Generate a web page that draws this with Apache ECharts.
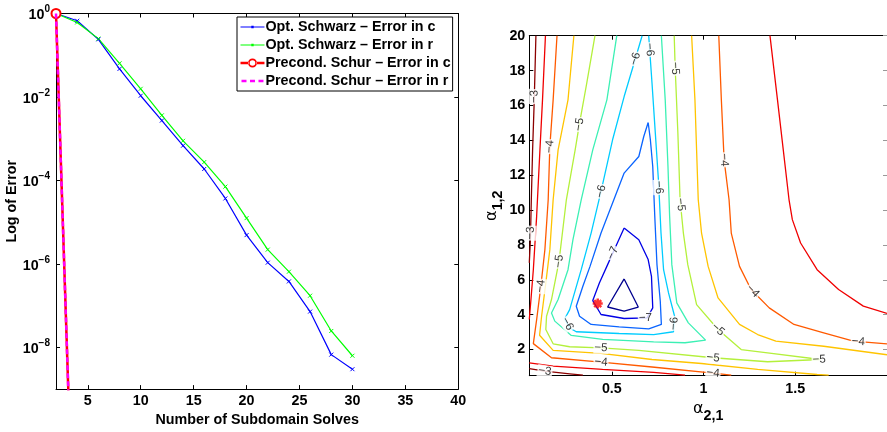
<!DOCTYPE html>
<html><head><meta charset="utf-8">
<script src="https://cdn.jsdelivr.net/npm/echarts@6/dist/echarts.min.js"></script>
<style>html,body{margin:0;padding:0;background:#fff}#c{width:887px;height:432px}</style>
</head><body><div id="c"></div>
<script>
// ---------- Left panel data ----------
const solves = [2,4,6,8,10,12,14,16,18,20,22,24,26,28,30];
const schwarzErrC = [1.0,0.67,0.24,0.047,0.0107,0.00272,6.8e-4,1.88e-4,3.7e-5,4.9e-6,1.07e-6,3.8e-7,7.2e-8,6.7e-9,3.0e-9];
const schwarzErrR = [1.0,0.61,0.25,0.064,0.0157,0.00363,8.9e-4,2.75e-4,7.1e-5,1.25e-5,2.2e-6,6.5e-7,1.73e-7,2.47e-8,6.3e-9];
const schurSolves = [2,4];
const schurErrC = [1.0,3e-16];
const schurErrR = [1.0,3e-16];
const leftXTicks = [5,10,15,20,25,30,35,40];
const leftYTicks = [1e-8,1e-6,1e-4,1e-2,1];

// ---------- Right panel data (contour lines, [alpha21, alpha12]) ----------
const rightXTicks = [0.5,1,1.5];
const rightYTicks = [2,4,6,8,10,12,14,16,18,20];
const optimum = [0.423,4.64];

const cM3a = [[0.086,20],[0.077,16.32],[0.068,13.45],[0.061,10.59],[0.056,8.30],[0.050,6.97]];
const cM3b = [[0.050,0.90],[0.135,0.76],[0.270,0.61],[0.342,0.53]];
const cM35a = [[0.138,20],[0.122,16.32],[0.108,13.45],[0.090,9.64],[0.072,6.58],[0.059,4.87],[0.050,3.72]];
const cM35b = [[0.050,1.24],[0.180,1.05],[0.450,0.86],[0.728,0.69],[0.899,0.53]];
const cM35c = [[1.362,20],[1.403,16.32],[1.466,10.59],[1.484,9.45],[1.529,8.11],[1.619,6.58],[1.736,5.44],[1.871,4.49],[2.0,4.07]];
const cM4a = [[0.201,20],[0.180,16.32],[0.162,13.64],[0.153,10.59],[0.135,7.73],[0.113,5.63],[0.090,3.72],[0.072,2.34],[0.171,1.53],[0.441,1.28],[0.719,1.00],[1.052,0.65],[1.151,0.53]];
const cM4b = [[1.083,20],[1.097,16.32],[1.112,12.88],[1.139,10.59],[1.151,8.68],[1.196,6.77],[1.259,5.44],[1.358,4.39],[1.493,3.44],[1.655,2.96],[1.817,2.48],[2.0,2.33]];
const cM45a = [[0.293,20],[0.261,16.32],[0.207,13.45],[0.180,10.59],[0.162,7.73],[0.140,5.82],[0.117,3.91],[0.106,2.82],[0.180,1.95],[0.441,1.78],[0.719,1.43],[0.989,1.20],[1.295,0.86],[1.619,0.57],[1.682,0.53]];
const cM45b = [[0.935,20],[0.953,16.32],[0.962,13.45],[0.971,10.59],[0.989,8.68],[1.025,6.77],[1.079,4.96],[1.196,3.44],[1.295,2.86],[1.394,2.48],[1.655,2.19],[2.0,1.70]];
const cM5 = [[0.408,20],[0.363,17.27],[0.324,14.98],[0.300,13.45],[0.252,10.59],[0.212,7.06],[0.171,4.87],[0.144,3.91],[0.140,3.15],[0.180,2.33],[0.270,2.16],[0.441,2.10],[0.647,1.95],[1.052,1.53],[1.349,1.30],[1.637,1.43],[1.349,1.81],[1.205,2.00],[1.079,3.15],[0.962,4.58],[0.914,6.87],[0.890,8.68],[0.872,10.59],[0.860,14.41],[0.845,18.23],[0.840,20]];
const cM55 = [[0.527,20],[0.473,16.32],[0.396,13.45],[0.333,10.59],[0.288,8.30],[0.261,6.58],[0.207,4.87],[0.171,4.10],[0.189,3.63],[0.279,2.81],[0.450,2.58],[0.728,2.44],[0.899,2.39],[1.011,2.54],[0.917,3.53],[0.854,4.68],[0.827,6.87],[0.815,9.64],[0.806,12.50],[0.791,16.32],[0.770,20]];
const cM6 = [[0.665,20],[0.621,18.42],[0.567,16.51],[0.504,14.03],[0.441,11.07],[0.387,8.68],[0.333,6.58],[0.270,4.29],[0.243,3.76],[0.270,3.24],[0.306,3.02],[0.540,2.92],[0.728,2.86],[0.836,3.02],[0.842,3.91],[0.809,5.25],[0.782,6.58],[0.768,8.68],[0.755,11.55],[0.737,14.41],[0.719,17.27],[0.701,20]];
const cM65 = [[0.698,15.02],[0.674,14.22],[0.647,13.07],[0.567,12.12],[0.504,10.40],[0.441,8.68],[0.381,6.77],[0.342,5.63],[0.306,4.48],[0.324,3.91],[0.387,3.44],[0.540,3.30],[0.701,3.19],[0.770,3.44],[0.764,4.77],[0.746,6.87],[0.734,9.64],[0.723,12.50],[0.710,14.03],[0.698,15.02]];
const cM7 = [[0.567,8.97],[0.522,7.92],[0.477,6.87],[0.432,5.82],[0.396,4.81],[0.441,4.01],[0.567,3.78],[0.692,3.82],[0.723,4.39],[0.716,6.20],[0.698,7.16],[0.647,8.30],[0.567,8.97]];
const cM75 = [[0.567,6.05],[0.644,4.44],[0.567,4.20],[0.477,4.44],[0.567,6.05]];

// contour label anchor points: [alpha21, alpha12, level]
const contourLabelPts = [
 [0.081,16.51,-3],[0.058,8.68,-3],[0.135,0.76,-3],
 [0.162,13.64,-4],[0.113,5.63,-4],[0.441,1.28,-4],[1.052,0.65,-4],[1.112,12.88,-4],[1.268,5.34,-4],[1.843,2.42,-4],
 [0.333,14.89,-5],[0.212,7.06,-5],[0.441,2.10,-5],[1.052,1.53,-5],[1.630,1.43,-5],[1.079,3.15,-5],[0.845,18.13,-5],[0.869,10.31,-5],
 [0.647,18.61,-6],[0.441,11.07,-6],[0.255,3.45,-6],[0.838,3.5,-6],[0.755,11.3,-6],[0.703,19.2,-6],
 [0.522,7.45,-7],[0.683,3.78,-7]
];

const contours = [
  {level:-7.5, pieces:[cM75]},
  {level:-7, pieces:[cM7]},
  {level:-6.5, pieces:[cM65]},
  {level:-6, pieces:[cM6]},
  {level:-5.5, pieces:[cM55]},
  {level:-5, pieces:[cM5]},
  {level:-4.5, pieces:[cM45a, cM45b]},
  {level:-4, pieces:[cM4a, cM4b]},
  {level:-3.5, pieces:[cM35a, cM35b, cM35c]},
  {level:-3, pieces:[cM3a, cM3b]}
];
const levelColor = {'-7.5':'#00008f','-7':'#0000e6','-6.5':'#0a64ff','-6':'#00ccff','-5.5':'#3cf0b4','-5':'#b4f03c','-4.5':'#ffc400','-4':'#ff5a00','-3.5':'#f00000','-3':'#8c0000'};

const FONT = 'Liberation Sans';
const FS = 14.3;
const chart = echarts.init(document.getElementById('c'));

function pow10Label(v){
  const e = Math.round(Math.log10(v));
  return '{b|10}{s|' + (e < 0 ? '\u2212' : '') + Math.abs(e) + '}';
}
const blk = '#000';
function axisBase(extra){
  return Object.assign({
    axisLine:{show:true, onZero:false, lineStyle:{color:blk, width:1}},
    splitLine:{show:false}
  }, extra);
}
const xMark = 'path://M0,0L10,10M10,0L0,10';
const alphaRich = {a:{fontFamily:'DejaVu Sans', fontSize:16, color:blk, verticalAlign:'bottom', padding:[0,0,6,0]},
                   s:{fontFamily:FONT, fontWeight:'bold', fontSize:FS, color:blk, verticalAlign:'bottom'}};

const xAxes = [
  axisBase({type:'value', gridIndex:0, position:'bottom', min:2, max:40,
    axisTick:{inside:true, length:4, customValues:leftXTicks, lineStyle:{color:blk}},
    axisLabel:{customValues:leftXTicks, fontFamily:FONT, fontWeight:'bold', fontSize:FS, color:blk, margin:5},
    name:'Number of Subdomain Solves', nameLocation:'middle', nameGap:20,
    nameTextStyle:{fontFamily:FONT, fontWeight:'bold', fontSize:FS, color:blk}}),
  axisBase({type:'value', gridIndex:0, position:'top', min:2, max:40,
    axisTick:{inside:true, length:4, customValues:leftXTicks, lineStyle:{color:blk}},
    axisLabel:{show:false}}),
  axisBase({type:'value', gridIndex:1, position:'bottom', min:0.05, max:2,
    axisTick:{inside:true, length:4, customValues:rightXTicks, lineStyle:{color:blk}},
    axisLabel:{customValues:rightXTicks, fontFamily:FONT, fontWeight:'bold', fontSize:FS, color:blk, margin:6},
    name:'{a|\u03b1}{s|2,1}', nameLocation:'middle', nameGap:17,
    nameTextStyle:{rich:alphaRich}}),
  axisBase({type:'value', gridIndex:1, position:'top', min:0.05, max:2,
    axisTick:{inside:true, length:4, customValues:rightXTicks, lineStyle:{color:blk}},
    axisLabel:{show:false}})
];
const yAxes = [
  axisBase({type:'log', logBase:10, gridIndex:0, position:'left', min:1e-9, max:1,
    axisTick:{inside:true, length:4, customValues:leftYTicks, lineStyle:{color:blk}},
    axisLabel:{customValues:leftYTicks, formatter:pow10Label, margin:6,
      rich:{b:{fontFamily:FONT, fontWeight:'bold', fontSize:FS, color:blk, verticalAlign:'bottom'},
            s:{fontFamily:FONT, fontWeight:'bold', fontSize:10, color:blk, verticalAlign:'bottom', padding:[0,0,8,0]}}},
    name:'Log of Error', nameLocation:'middle', nameGap:29,
    nameTextStyle:{fontFamily:FONT, fontWeight:'bold', fontSize:FS, color:blk}}),
  axisBase({type:'log', logBase:10, gridIndex:0, position:'right', min:1e-9, max:1,
    axisTick:{inside:true, length:4, customValues:leftYTicks, lineStyle:{color:blk}},
    axisLabel:{show:false}}),
  axisBase({type:'value', gridIndex:1, position:'left', min:0.5, max:20,
    axisTick:{inside:true, length:4, customValues:rightYTicks, lineStyle:{color:blk}},
    axisLabel:{customValues:rightYTicks, fontFamily:FONT, fontWeight:'bold', fontSize:FS, color:blk, margin:4},
    name:'{a|\u03b1}{s|1,2}', nameLocation:'middle', nameGap:22,
    nameTextStyle:{rich:alphaRich}}),
  axisBase({type:'value', gridIndex:1, position:'right', min:0.5, max:20,
    axisTick:{inside:true, length:4, customValues:rightYTicks, lineStyle:{color:'#999'}},
    axisLabel:{show:false}})
];

const zip = (xs, ys) => xs.map((x, i) => [x, ys[i]]);
const nameC = 'Opt. Schwarz \u2013 Error in c', nameR = 'Opt. Schwarz \u2013 Error in r';
const nameSC = 'Precond. Schur \u2013 Error in c', nameSR = 'Precond. Schur \u2013 Error in r';
const series = [
  {name:nameC, type:'line', xAxisIndex:0, yAxisIndex:0, data:zip(solves, schwarzErrC),
   symbol:xMark, symbolSize:4, showAllSymbol:true, color:'#0000ff',
   itemStyle:{color:'#0000ff', borderColor:'#0000ff', borderWidth:1}, lineStyle:{color:'#0000ff', width:1.2}},
  {name:nameR, type:'line', xAxisIndex:0, yAxisIndex:0, data:zip(solves, schwarzErrR),
   symbol:xMark, symbolSize:4, showAllSymbol:true, color:'#00ff00',
   itemStyle:{color:'#00ff00', borderColor:'#00ff00', borderWidth:1}, lineStyle:{color:'#00ff00', width:1.2}},
  {name:nameSC, type:'line', xAxisIndex:0, yAxisIndex:0, data:zip(schurSolves, schurErrC),
   symbol:'emptyCircle', symbolSize:9, color:'#ff0000',
   itemStyle:{color:'#ff0000', borderColor:'#ff0000', borderWidth:2}, lineStyle:{color:'#ff0000', width:2.5}, z:3},
  {name:nameSR, type:'line', xAxisIndex:0, yAxisIndex:0, data:zip(schurSolves, schurErrR),
   symbol:'none', color:'#ff00ff', lineStyle:{color:'#ff00ff', width:2.5, type:[5,3]}, z:4}
];

contours.forEach(c => {
  c.pieces.forEach(p => {
    series.push({type:'line', xAxisIndex:2, yAxisIndex:2, data:p, symbol:'none', silent:true,
      lineStyle:{color:levelColor[String(c.level)], width:1.3}, z:2});
  });
});
series.push({id:'clabels', type:'scatter', xAxisIndex:2, yAxisIndex:2, symbol:'circle', symbolSize:1, silent:true,
  itemStyle:{color:'rgba(0,0,0,0)'}, z:5,
  data: contourLabelPts.map(p => ({name:'\u2212' + Math.abs(p[2]), value:[p[0], p[1]]})),
  label:{show:true, position:'inside', formatter:'{b}', fontFamily:FONT, fontSize:11.5, color:'#000',
         backgroundColor:'#fff', padding:[0,1]}});
series.push({type:'scatter', xAxisIndex:2, yAxisIndex:2, data:[optimum], silent:true, z:6,
  symbol:'path://M5,0L5,10M0,5L10,5M1.5,1.5L8.5,8.5M8.5,1.5L1.5,8.5', symbolSize:10,
  itemStyle:{color:'#ff0000', borderColor:'#ff0000', borderWidth:2.5}});

// legend icons (24 x 10 box; corner specks fix the bounding box)
const box = 'M0,0h0.01v0.01h-0.01zM24,10h0.01v0.01h-0.01z';
const iconLineMark = 'path://' + box + 'M0,4.4h24v1.2h-24zM10.8,3.8h2.4v2.4h-2.4z';
const iconLineRing = 'path://' + box + 'M0,3.8h8v2.4h-8zM16,3.8h8v2.4h-8zM16.5,5A4.5,4.5 0 1,0 7.5,5A4.5,4.5 0 1,0 16.5,5ZM14.8,5A2.8,2.8 0 1,1 9.2,5A2.8,2.8 0 1,1 14.8,5Z';
const iconDash = 'path://' + box + 'M1,3.8h5v2.4h-5zM9.5,3.8h5v2.4h-5zM18,3.8h5v2.4h-5z';

chart.setOption({
  animation:false,
  backgroundColor:'#fff',
  grid:[
    {left:56, top:13.5, width:402.3, height:382.2, containLabel:false},
    {left:529.3, top:35.7, width:361.4, height:340, containLabel:false}
  ],
  legend:{
    data:[{name:nameC, icon:iconLineMark},{name:nameR, icon:iconLineMark},{name:nameSC, icon:iconLineRing},{name:nameSR, icon:iconDash}],
    orient:'vertical', left:237, top:17,
    backgroundColor:'#fff', borderColor:'#000', borderWidth:1, borderRadius:0,
    padding:[2,2,2,3.5], itemGap:2, itemWidth:24, itemHeight:10,
    itemStyle:{borderWidth:0},
    textStyle:{fontFamily:FONT, fontWeight:'bold', fontSize:FS, lineHeight:16, color:'#000', padding:[0,0,0,-4]},
    selectedMode:false
  },
  xAxis:xAxes, yAxis:yAxes, series:series
});

// orient and snap contour labels onto their lines using the chart's own pixel scale
function toPix(p){ return chart.convertToPixel({xAxisIndex:2, yAxisIndex:2}, p); }
const newData = contourLabelPts.map(lp => {
  const c = contours.find(cc => cc.level === lp[2]);
  const P = toPix([lp[0], lp[1]]);
  let best = null;
  c.pieces.forEach(piece => {
    for (let i = 0; i < piece.length - 1; i++) {
      const A = toPix(piece[i]), B = toPix(piece[i+1]);
      const dx = B[0]-A[0], dy = B[1]-A[1];
      const L2 = dx*dx + dy*dy || 1;
      let t = ((P[0]-A[0])*dx + (P[1]-A[1])*dy) / L2;
      t = Math.max(0, Math.min(1, t));
      const Q = [A[0]+t*dx, A[1]+t*dy];
      const d = Math.hypot(P[0]-Q[0], P[1]-Q[1]);
      if (!best || d < best.d) best = {d, Q, dx, dy};
    }
  });
  let ang = Math.atan2(-best.dy, best.dx) * 180 / Math.PI;
  if (ang > 90) ang -= 180;
  if (ang <= -90) ang += 180;
  const v = chart.convertFromPixel({xAxisIndex:2, yAxisIndex:2}, best.Q);
  return {name:'\u2212' + Math.abs(lp[2]), value:v, label:{rotate:ang}};
});
chart.setOption({series:[{id:'clabels', data:newData}]});
</script>
</body></html>
